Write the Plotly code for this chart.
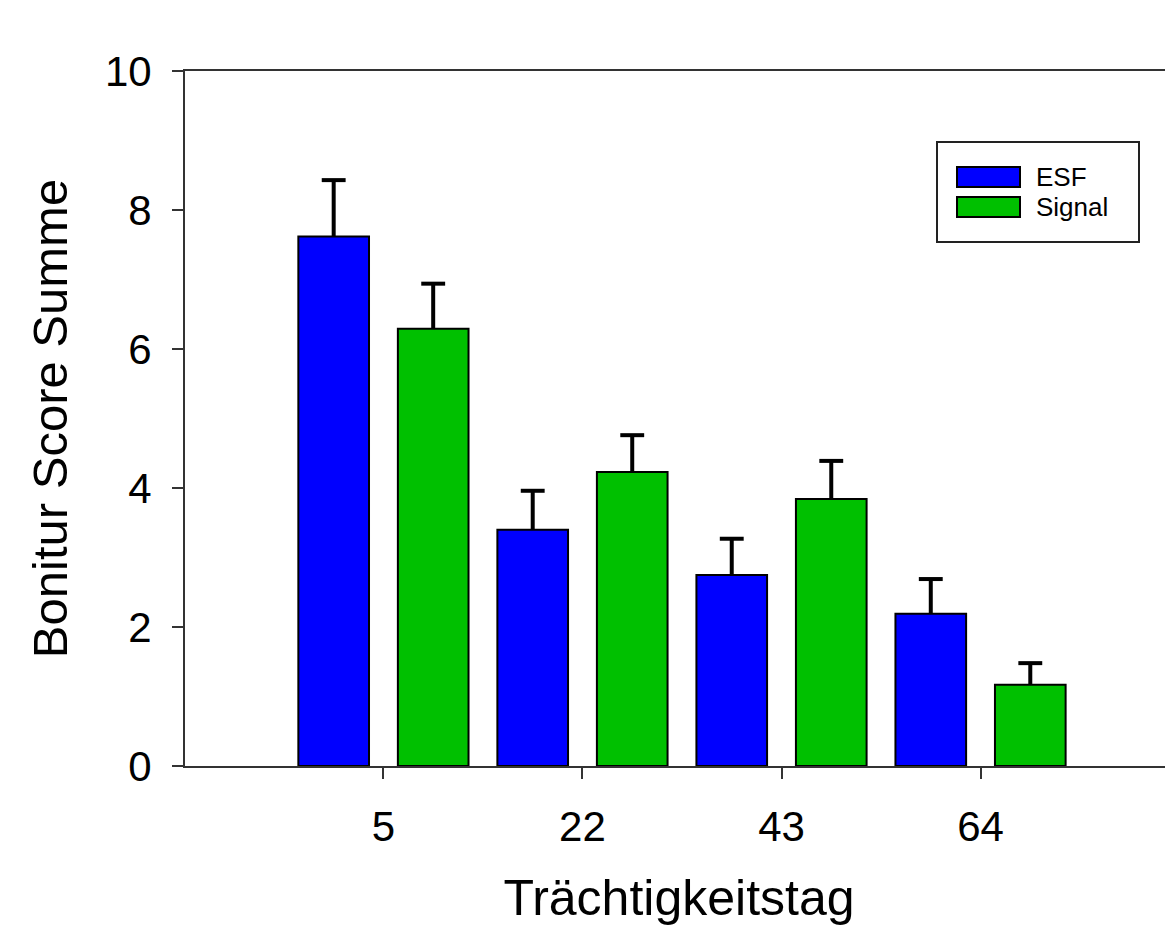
import plotly.graph_objects as go

categories = ["5", "22", "43", "64"]
esf_values = [7.62, 3.40, 2.75, 2.19]
esf_errors = [0.81, 0.56, 0.52, 0.50]
signal_values = [6.29, 4.23, 3.84, 1.17]
signal_errors = [0.65, 0.53, 0.55, 0.31]
series_names = ["ESF", "Signal"]
series_colors = ["#0000FF", "#00C000"]

# page body has an 8px margin; figure is sized so it ends at the window edge
OFF = 8
W, H = 1173 - OFF, 928 - OFF
L, T = 185 - OFF, 71 - OFF
B = H - (766 - OFF)
R = 0
PW, PH = W - L - R, H - T - B

def px(x):
    return (x - OFF - L) / PW

def py(y):
    return (H - B - (y - OFF)) / PH

xpos = list(range(len(categories)))
n_series = 2
slot = 1.0 / n_series
offsets = [-slot / 2, slot / 2]
cap_half = 0.06

fig = go.Figure()
for k, (name, vals, errs, col) in enumerate([
    (series_names[0], esf_values, esf_errors, series_colors[0]),
    (series_names[1], signal_values, signal_errors, series_colors[1]),
]):
    fig.add_trace(go.Bar(
        x=xpos, y=vals, name=name,
        marker=dict(color=col, line=dict(color="black", width=2)),
        showlegend=False,
    ))
for k, (vals, errs) in enumerate([(esf_values, esf_errors), (signal_values, signal_errors)]):
    ex, ey = [], []
    for i, (v, e) in enumerate(zip(vals, errs)):
        c = xpos[i] + offsets[k]
        ex += [c, c, None, c - cap_half, c + cap_half, None]
        ey += [v, v + e, None, v + e, v + e, None]
    fig.add_trace(go.Scatter(x=ex, y=ey, mode="lines",
                             line=dict(color="black", width=4),
                             showlegend=False, hoverinfo="skip"))

font = "Liberation Sans, Arial, sans-serif"

fig.update_layout(
    width=W, height=H,
    margin=dict(l=L, r=R, t=T, b=B),
    paper_bgcolor="white", plot_bgcolor="white",
    barmode="group", bargap=0.0, bargroupgap=0.29,
    font=dict(family=font, color="black"),
    xaxis=dict(
        range=[-0.997, 3.967], tickmode="array", tickvals=xpos, ticktext=categories,
        showline=True, linecolor="#333333", linewidth=2, mirror=True,
        ticks="outside", ticklen=11, tickwidth=2, tickcolor="#333333",
        showgrid=False, zeroline=False, ticklabelstandoff=12,
        tickfont=dict(size=42, family=font),
        title=dict(text="Trächtigkeitstag", font=dict(size=50, family=font), standoff=31),
    ),
    yaxis=dict(
        range=[0, 10], tickvals=[0, 2, 4, 6, 8, 10],
        showline=True, linecolor="#333333", linewidth=2, mirror=False,
        ticks="outside", ticklen=11, tickwidth=2, tickcolor="#333333",
        showgrid=False, zeroline=False, ticklabelstandoff=12,
        tickfont=dict(size=42, family=font),
        title=dict(text="Bonitur Score Summe", font=dict(size=49, family=font), standoff=22),
    ),
)

# Legend drawn manually to match the reference style
shapes = [dict(type="rect", xref="paper", yref="paper",
               x0=px(937), x1=px(1139), y0=py(242), y1=py(142),
               line=dict(color="#222222", width=2), fillcolor="white", layer="above")]
annotations = []
for i, (name, col) in enumerate(zip(series_names, series_colors)):
    y0, y1 = 167 + i * 30, 187 + i * 30
    shapes.append(dict(type="rect", xref="paper", yref="paper",
                       x0=px(957), x1=px(1020), y0=py(y1), y1=py(y0),
                       line=dict(color="black", width=2), fillcolor=col, layer="above"))
    annotations.append(dict(xref="paper", yref="paper", x=px(1034), y=py((y0 + y1) / 2),
                            text=name, showarrow=False, xanchor="left", yanchor="middle",
                            font=dict(size=26, family=font, color="black")))
fig.update_layout(shapes=shapes, annotations=annotations)

fig.write_html("out.html")
